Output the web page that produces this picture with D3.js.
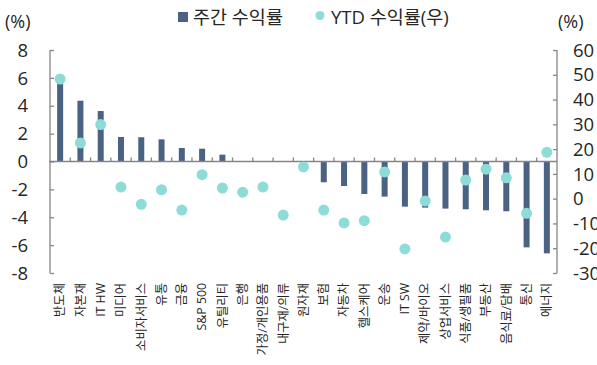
<!DOCTYPE html>
<html>
<head>
<meta charset="utf-8">
<script src="https://cdn.jsdelivr.net/npm/d3@7"></script>
<style>
  body { margin: 0; background: #fff; }
  text { font-family: "Open Sans", "Noto Sans CJK KR", sans-serif; fill: #262626; }
</style>
</head>
<body>
<div id="chart"></div>
<script>
// categories and values
const categories = ['반도체', '자본재', 'IT HW', '미디어', '소비자서비스', '유통', '금융', 'S&P 500',
  '유틸리티', '은행', '가정/개인용품', '내구재/의류', '원자재', '보험', '자동차', '헬스케어', '운송',
  'IT SW', '제약/바이오', '상업서비스', '식품/생필품', '부동산', '음식료/담배', '통신', '에너지'];
const weekly = [5.9, 4.36, 3.62, 1.76, 1.74, 1.59, 0.97, 0.92, 0.49, 0.02, 0.01, -0.03, -0.05,
  -1.49, -1.76, -2.33, -2.52, -3.24, -3.31, -3.38, -3.43, -3.5, -3.57, -6.16, -6.59];
const ytd = [48.3, 22.5, 29.9, 4.7, -2.3, 3.6, -4.6, 9.7, 4.3, 2.6, 4.7, -6.6, 12.8,
  -4.6, -9.8, -8.9, 10.8, -20.3, -0.9, -15.5, 7.5, 11.9, 8.4, -5.9, 18.7];
const leftTicks = [8, 6, 4, 2, 0, -2, -4, -6, -8];
const rightTicks = [60, 50, 40, 30, 20, 10, 0, -10, -20, -30];

const width = 597, height = 365;
const plotLeft = 50, plotRight = 557, plotTop = 50, plotBottom = 273;

const svg = d3.select('#chart').append('svg')
  .attr('width', width)
  .attr('height', height);

const x = d3.scaleBand().domain(categories).range([plotLeft, plotRight]);
const yL = d3.scaleLinear().domain([-8, 8]).range([plotBottom, plotTop]);
const yR = d3.scaleLinear().domain([-30, 60]).range([plotBottom, plotTop]);

const axisColor = '#868686';

// left axis
const gl = svg.append('g').attr('transform', `translate(${plotLeft},0)`)
  .call(d3.axisRight(yL).tickValues(leftTicks).tickSize(4).tickFormat(''));
gl.select('.domain').attr('stroke', axisColor).attr('stroke-width', 1.3).attr('d', `M0,${plotTop}V${plotBottom}`);
gl.selectAll('.tick line').attr('stroke', axisColor).attr('stroke-width', 1.3);
svg.append('g').selectAll('text')
  .data(leftTicks)
  .enter().append('text')
  .attr('x', 28)
  .attr('y', d => yL(d))
  .attr('dy', '0.36em')
  .attr('text-anchor', 'end')
  .attr('font-size', '18.5px')
  .text(d => d);

// right axis
const gr = svg.append('g').attr('transform', `translate(${plotRight},0)`)
  .call(d3.axisLeft(yR).tickValues(rightTicks).tickSize(4).tickFormat(''));
gr.select('.domain').attr('stroke', axisColor).attr('stroke-width', 1.3).attr('d', `M0,${plotTop}V${plotBottom}`);
gr.selectAll('.tick line').attr('stroke', axisColor).attr('stroke-width', 1.3);
svg.append('g').selectAll('text')
  .data(rightTicks)
  .enter().append('text')
  .attr('x', 573)
  .attr('y', d => yR(d))
  .attr('dy', '0.36em')
  .attr('text-anchor', 'start')
  .attr('font-size', '18.5px')
  .text(d => d);

// unit labels
svg.append('text').attr('x', 5).attr('y', 28).attr('font-size', '18px').text('(%)');
svg.append('text').attr('x', 558).attr('y', 28).attr('font-size', '18px').text('(%)');

// bars
svg.append('g')
  .selectAll('rect')
  .data(weekly)
  .enter().append('rect')
  .attr('x', (d, i) => x(categories[i]) + x.bandwidth() / 2 - 3)
  .attr('width', 6)
  .attr('y', d => yL(Math.max(0, d)))
  .attr('height', d => Math.abs(yL(d) - yL(0)))
  .attr('fill', '#4a6385');

// zero line with category ticks
const zero = yL(0);
svg.append('line')
  .attr('x1', plotLeft - 1).attr('x2', plotRight)
  .attr('y1', zero).attr('y2', zero)
  .attr('stroke', axisColor).attr('stroke-width', 1.3);
svg.append('g')
  .selectAll('line')
  .data(categories.slice(1))
  .enter().append('line')
  .attr('x1', d => x(d)).attr('x2', d => x(d))
  .attr('y1', zero).attr('y2', zero - 4)
  .attr('stroke', axisColor).attr('stroke-width', 1.3);

// ytd dots
svg.append('g')
  .selectAll('circle')
  .data(ytd)
  .enter().append('circle')
  .attr('cx', (d, i) => x(categories[i]) + x.bandwidth() / 2)
  .attr('cy', d => yR(d))
  .attr('r', 5.5)
  .attr('fill', '#8edcd8');

// category labels
svg.append('g')
  .selectAll('text')
  .data(categories)
  .enter().append('text')
  .attr('transform', d => `translate(${x(d) + x.bandwidth() / 2},283) rotate(-90)`)
  .attr('text-anchor', 'end')
  .attr('dy', '0.35em')
  .attr('font-size', '12.3px')
  .text(d => d);

// legend
svg.append('rect').attr('x', 178).attr('y', 12).attr('width', 10).attr('height', 10).attr('fill', '#4a6385');
svg.append('text').attr('x', 193).attr('y', 24).attr('font-size', '18.5px').text('주간 수익률');
svg.append('circle').attr('cx', 320).attr('cy', 15.5).attr('r', 4.5).attr('fill', '#8edcd8');
svg.append('text').attr('x', 331).attr('y', 24).attr('font-size', '18.5px').text('YTD 수익률(우)');
</script>
</body>
</html>
